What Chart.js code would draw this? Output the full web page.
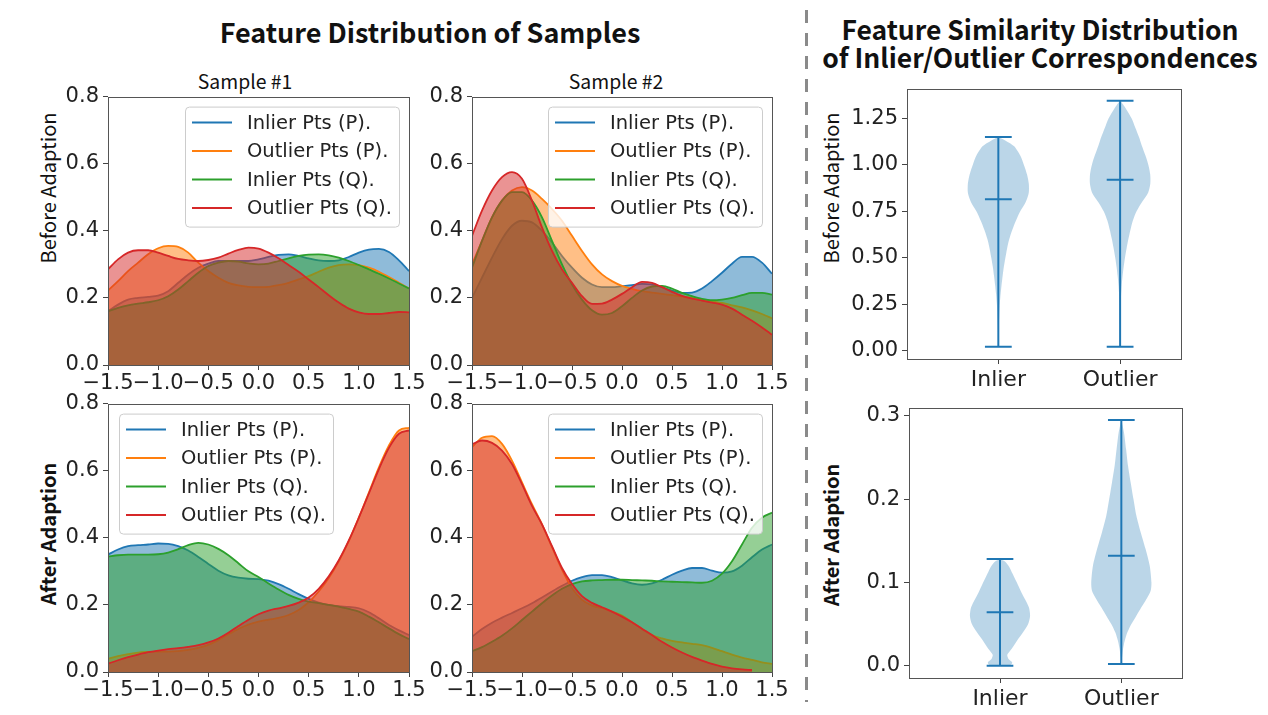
<!DOCTYPE html>
<html>
<head>
<meta charset="utf-8">
<script src="https://cdn.jsdelivr.net/npm/chart.js@4.4.1/dist/chart.umd.min.js"></script>
<style>
body { margin: 0; width: 1268px; height: 715px; background: #fff; position: relative; overflow: hidden; font-family: "Noto Sans CJK JP", sans-serif; color: #111; }
canvas { position: absolute; }
.t { position: absolute; white-space: nowrap; text-align: center; }
.rot { position: absolute; white-space: nowrap; font-size: 20px; transform: translate(-50%, -50%) rotate(-90deg); }
.dash { position: absolute; left: 805px; top: 10px; width: 3px; height: 692px; background: repeating-linear-gradient(to bottom, #8a8a8a 0 13px, transparent 13px 23px); }
</style>
</head>
<body>
<div class="t" style="left:130px;width:600px;top:12px;font-size:27px;font-weight:bold;">Feature Distribution of Samples</div>
<div class="t" style="left:820px;width:440px;top:15px;font-size:26.5px;font-weight:bold;line-height:28px;">Feature Similarity Distribution<br>of Inlier/Outlier Correspondences</div>
<div class="t" style="left:195px;width:100px;top:66px;font-size:19.4px;">Sample #1</div>
<div class="t" style="left:566px;width:100px;top:66px;font-size:19.4px;">Sample #2</div>
<div class="rot" style="left:47px;top:188px;">Before Adaption</div>
<div class="rot" style="left:47px;top:534px;font-weight:bold;">After Adaption</div>
<div class="rot" style="left:830px;top:188px;">Before Adaption</div>
<div class="rot" style="left:830px;top:535px;font-weight:bold;">After Adaption</div>
<div class="dash"></div>

<canvas id="c1" width="400" height="320" style="left:30px;top:80px"></canvas>
<canvas id="c2" width="370" height="320" style="left:425px;top:80px"></canvas>
<canvas id="c3" width="400" height="323" style="left:30px;top:387px"></canvas>
<canvas id="c4" width="370" height="323" style="left:425px;top:387px"></canvas>
<canvas id="c5" width="360" height="320" style="left:850px;top:72px"></canvas>
<canvas id="c6" width="360" height="322" style="left:850px;top:391px"></canvas>

<script>
// --- Données ---
const xGrid = [-1.5,-1.4,-1.3,-1.2,-1.1,-1.0,-0.9,-0.8,-0.7,-0.6,-0.5,-0.4,-0.3,-0.2,-0.1,0.0,0.1,0.2,0.3,0.4,0.5,0.6,0.7,0.8,0.9,1.0,1.1,1.2,1.3,1.4,1.5];
const kdeXTicks = [-1.5, -1.0, -0.5, 0.0, 0.5, 1.0, 1.5];
const kdeYTicks = [0.0, 0.2, 0.4, 0.6, 0.8];
const seriesNames = ["Inlier Pts (P).", "Outlier Pts (P).", "Inlier Pts (Q).", "Outlier Pts (Q)."];
const seriesColors = ["#1f77b4", "#ff7f0e", "#2ca02c", "#d62728"];

// Sample #1, avant adaptation
const s1BeforeInlierP = [0.16,0.18,0.195,0.2,0.203,0.207,0.22,0.245,0.27,0.29,0.302,0.31,0.31,0.31,0.31,0.315,0.322,0.328,0.33,0.325,0.318,0.312,0.31,0.312,0.322,0.335,0.344,0.346,0.337,0.312,0.28];
const s1BeforeOutlierP = [0.222,0.25,0.28,0.305,0.33,0.348,0.355,0.352,0.335,0.305,0.28,0.26,0.245,0.237,0.233,0.232,0.233,0.238,0.245,0.255,0.265,0.278,0.29,0.298,0.3,0.298,0.29,0.278,0.262,0.245,0.228];
const s1BeforeInlierQ = [0.16,0.17,0.178,0.183,0.187,0.193,0.205,0.225,0.25,0.275,0.295,0.305,0.31,0.308,0.303,0.3,0.302,0.31,0.318,0.325,0.329,0.33,0.327,0.32,0.31,0.298,0.285,0.272,0.258,0.243,0.228];
const s1BeforeOutlierQ = [0.285,0.315,0.335,0.342,0.342,0.335,0.325,0.316,0.312,0.31,0.313,0.32,0.332,0.343,0.35,0.347,0.335,0.318,0.298,0.278,0.255,0.232,0.208,0.186,0.168,0.157,0.152,0.152,0.155,0.158,0.157];

// Sample #2, avant adaptation
const s2BeforeInlierP = [0.2,0.26,0.32,0.375,0.415,0.43,0.425,0.4,0.365,0.325,0.29,0.26,0.24,0.232,0.232,0.235,0.238,0.242,0.24,0.232,0.222,0.215,0.216,0.228,0.25,0.275,0.302,0.322,0.322,0.305,0.272];
const s2BeforeOutlierP = [0.3,0.37,0.44,0.49,0.52,0.53,0.52,0.495,0.465,0.43,0.385,0.34,0.3,0.27,0.25,0.236,0.227,0.22,0.216,0.212,0.208,0.204,0.2,0.195,0.19,0.185,0.178,0.172,0.163,0.152,0.139];
const s2BeforeInlierQ = [0.29,0.37,0.44,0.49,0.515,0.515,0.49,0.44,0.37,0.3,0.24,0.195,0.163,0.15,0.155,0.175,0.2,0.222,0.234,0.236,0.228,0.215,0.205,0.197,0.193,0.195,0.2,0.208,0.215,0.215,0.21];
const s2BeforeOutlierQ = [0.385,0.46,0.52,0.56,0.575,0.555,0.49,0.41,0.34,0.285,0.245,0.205,0.182,0.183,0.195,0.212,0.232,0.248,0.245,0.232,0.218,0.206,0.198,0.192,0.186,0.18,0.168,0.15,0.132,0.112,0.09];

// Sample #1, après adaptation
const s1AfterInlierP = [0.35,0.365,0.375,0.378,0.38,0.383,0.382,0.375,0.362,0.343,0.322,0.302,0.288,0.281,0.278,0.277,0.272,0.262,0.248,0.232,0.218,0.207,0.2,0.196,0.194,0.19,0.178,0.16,0.14,0.124,0.11];
const s1AfterOutlierP = [0.04,0.047,0.053,0.058,0.06,0.061,0.061,0.062,0.066,0.072,0.081,0.095,0.112,0.128,0.141,0.15,0.156,0.161,0.17,0.185,0.208,0.24,0.28,0.33,0.39,0.46,0.535,0.61,0.675,0.72,0.728];
const s1AfterInlierQ = [0.344,0.348,0.35,0.35,0.35,0.351,0.356,0.366,0.378,0.385,0.38,0.367,0.348,0.324,0.3,0.283,0.264,0.246,0.23,0.218,0.21,0.205,0.2,0.195,0.188,0.18,0.165,0.148,0.13,0.113,0.098];
const s1AfterOutlierQ = [0.025,0.035,0.044,0.052,0.059,0.064,0.068,0.071,0.075,0.08,0.088,0.1,0.117,0.137,0.156,0.172,0.183,0.19,0.197,0.207,0.222,0.248,0.285,0.333,0.392,0.46,0.532,0.605,0.668,0.71,0.72];

// Sample #2, après adaptation
const s2AfterInlierP = [0.105,0.128,0.147,0.162,0.176,0.19,0.205,0.222,0.24,0.257,0.272,0.283,0.289,0.289,0.283,0.273,0.264,0.26,0.264,0.275,0.29,0.302,0.31,0.31,0.302,0.296,0.3,0.317,0.342,0.365,0.38];
const s2AfterOutlierP = [0.67,0.698,0.703,0.68,0.63,0.565,0.5,0.44,0.372,0.305,0.25,0.215,0.198,0.19,0.18,0.168,0.148,0.128,0.11,0.1,0.093,0.088,0.084,0.08,0.072,0.062,0.052,0.043,0.036,0.029,0.024];
const s2AfterInlierQ = [0.062,0.074,0.09,0.108,0.13,0.155,0.18,0.205,0.228,0.248,0.262,0.27,0.273,0.274,0.275,0.275,0.274,0.273,0.272,0.27,0.269,0.268,0.267,0.266,0.272,0.293,0.33,0.38,0.43,0.46,0.475];
const s2AfterOutlierQ = [0.679,0.69,0.683,0.66,0.62,0.56,0.495,0.44,0.375,0.31,0.262,0.226,0.206,0.193,0.18,0.165,0.148,0.129,0.11,0.09,0.073,0.058,0.045,0.034,0.024,0.016,0.011,0.008,0.006,null,null];

// Violons
const violinCats = ["Inlier", "Outlier"];
const violinPos = [1, 2];
const vBeforeYTicks = [0.00, 0.25, 0.50, 0.75, 1.00, 1.25];
const vAfterYTicks = [0.0, 0.1, 0.2, 0.3];
const vBeforeMin = [0.02, 0.02];
const vBeforeMax = [1.15, 1.345];
const vBeforeMed = [0.815, 0.92];
const vAfterMin = [0.0, 0.002];
const vAfterMax = [0.128, 0.295];
const vAfterMed = [0.064, 0.132];

const vBeforeInlierLv = [0.02,0.05,0.1,0.15,0.2,0.25,0.3,0.35,0.4,0.45,0.5,0.55,0.6,0.65,0.7,0.75,0.8,0.85,0.9,0.95,1.0,1.05,1.1,1.13,1.15];
const vBeforeInlierW = [0,0.002,0.003,0.005,0.008,0.012,0.018,0.026,0.035,0.045,0.058,0.072,0.09,0.115,0.145,0.18,0.225,0.25,0.25,0.235,0.21,0.18,0.13,0.06,0];
const vBeforeOutlierLv = [0.02,0.1,0.2,0.25,0.3,0.35,0.4,0.45,0.5,0.55,0.6,0.65,0.7,0.75,0.8,0.85,0.9,0.95,1.0,1.05,1.1,1.15,1.2,1.25,1.3,1.32,1.345];
const vBeforeOutlierW = [0,0.001,0.003,0.005,0.008,0.013,0.02,0.029,0.04,0.053,0.068,0.085,0.105,0.135,0.18,0.23,0.248,0.247,0.232,0.208,0.18,0.155,0.125,0.095,0.05,0.03,0];
const vAfterInlierLv = [0,0.001,0.004,0.008,0.013,0.02,0.03,0.04,0.05,0.06,0.07,0.08,0.09,0.1,0.11,0.12,0.125,0.128];
const vAfterInlierW = [0,0.09,0.1,0.07,0.06,0.095,0.14,0.19,0.232,0.248,0.238,0.205,0.17,0.138,0.105,0.07,0.04,0];
const vAfterOutlierLv = [0.002,0.01,0.02,0.03,0.04,0.05,0.06,0.07,0.08,0.09,0.1,0.12,0.14,0.16,0.18,0.2,0.22,0.24,0.26,0.28,0.295];
const vAfterOutlierW = [0,0.006,0.014,0.028,0.05,0.083,0.124,0.165,0.207,0.242,0.248,0.234,0.2,0.16,0.124,0.1,0.077,0.055,0.039,0.022,0];

// --- Réglages communs ---
Chart.defaults.font.family = "'DejaVu Sans', sans-serif";
Chart.defaults.font.size = 21;
Chart.defaults.color = "#222";
Chart.defaults.animation = false;

function fmt(v, d) {
    return (v < 0 ? "\u2212" : "") + Math.abs(v).toFixed(d);
}

function rgba(hex, a) {
    const n = parseInt(hex.slice(1), 16);
    return `rgba(${n >> 16},${(n >> 8) & 255},${n & 255},${a})`;
}

// cadre autour de la zone de tracé
Chart.register({
    id: "frame",
    afterDatasetsDraw(chart) {
        const { ctx, chartArea: a } = chart;
        ctx.save();
        ctx.strokeStyle = "#555";
        ctx.lineWidth = 1;
        ctx.strokeRect(Math.round(a.left) + 0.5, Math.round(a.top) + 0.5, Math.round(a.right - a.left), Math.round(a.bottom - a.top));
        ctx.restore();
    }
});

// légende façon matplotlib, dans la zone de tracé
Chart.register({
    id: "boxLegend",
    afterDraw(chart, args, opts) {
        if (!opts.side) return;
        const { ctx, chartArea: a } = chart;
        const w = 214, h = 120;
        const x = opts.side === "left" ? a.left + 11 : a.right - 10 - w;
        const y = a.top + 10;
        ctx.save();
        ctx.fillStyle = "rgba(255,255,255,0.8)";
        ctx.strokeStyle = "#cccccc";
        ctx.lineWidth = 1;
        ctx.beginPath();
        ctx.roundRect(x + 0.5, y + 0.5, w, h, 4);
        ctx.fill();
        ctx.stroke();
        ctx.font = "19.5px 'DejaVu Sans'";
        ctx.textBaseline = "middle";
        seriesNames.forEach((name, i) => {
            const ry = y + 16 + i * 28.5;
            ctx.strokeStyle = seriesColors[i];
            ctx.lineWidth = 2;
            ctx.beginPath();
            ctx.moveTo(x + 7, ry);
            ctx.lineTo(x + 47, ry);
            ctx.stroke();
            ctx.fillStyle = "#222";
            ctx.fillText(name, x + 62, ry + 1);
        });
        ctx.restore();
    }
});

function fitArea(canvas, a) {
    const cx = parseFloat(canvas.style.left), cy = parseFloat(canvas.style.top);
    return {
        padding: { left: 0, top: a.t - cy, right: cx + canvas.width - a.r, bottom: 0 },
        yW: a.l - cx,
        xH: cy + canvas.height - a.b
    };
}

function axisStyle() {
    return {
        grid: { drawOnChartArea: false, drawTicks: true, tickLength: 5, tickColor: "#444" },
        border: { display: false }
    };
}

function kdeChart(id, area, arrays, side) {
    const canvas = document.getElementById(id);
    const g = fitArea(canvas, area);
    const datasets = arrays.map((arr, i) => ({
        label: seriesNames[i],
        data: xGrid.map((x, j) => ({ x: x, y: arr[j] })),
        borderColor: seriesColors[i],
        backgroundColor: rgba(seriesColors[i], 0.5),
        borderWidth: 1.8,
        pointRadius: 0,
        fill: "origin",
        cubicInterpolationMode: "monotone",
        order: 4 - i
    }));
    return new Chart(canvas, {
        type: "line",
        data: { datasets },
        options: {
            responsive: false,
            layout: { padding: g.padding },
            plugins: { legend: { display: false }, tooltip: { enabled: false }, boxLegend: { side } },
            scales: {
                x: {
                    type: "linear", min: -1.5, max: 1.5, ...axisStyle(),
                    afterBuildTicks: ax => { ax.ticks = kdeXTicks.map(v => ({ value: v })); },
                    afterFit: ax => { ax.height = g.xH; },
                    ticks: { autoSkip: false, maxRotation: 0, minRotation: 0, padding: 1, callback: v => fmt(v, 1) }
                },
                y: {
                    min: 0, max: 0.8, ...axisStyle(),
                    afterBuildTicks: ax => { ax.ticks = kdeYTicks.map(v => ({ value: v })); },
                    afterFit: ax => { ax.width = g.yW; },
                    ticks: { padding: 4, callback: v => fmt(v, 1) }
                }
            }
        }
    });
}

function violinChart(id, area, profiles, mins, maxs, meds, yMin, yMax, yTicks, dec) {
    const canvas = document.getElementById(id);
    const g = fitArea(canvas, area);
    const blue = "#1f77b4";
    const datasets = [];
    profiles.forEach(([lv, w], k) => {
        const p = violinPos[k];
        const right = lv.map((v, i) => ({ x: p + w[i], y: v }));
        const left = lv.map((v, i) => ({ x: p - w[i], y: v })).reverse();
        datasets.push({ data: right.concat(left), borderWidth: 0, borderColor: "rgba(0,0,0,0)",
            backgroundColor: rgba(blue, 0.3), fill: "shape", pointRadius: 0, tension: 0.25, order: 10 });
    });
    const seg = (x1, y1, x2, y2) => ({ data: [{ x: x1, y: y1 }, { x: x2, y: y2 }], borderColor: blue,
        borderWidth: 2, pointRadius: 0, fill: false, order: 1 });
    violinPos.forEach((p, k) => {
        datasets.push(seg(p, mins[k], p, maxs[k]));
        [mins[k], maxs[k], meds[k]].forEach(v => datasets.push(seg(p - 0.11, v, p + 0.11, v)));
    });
    return new Chart(canvas, {
        type: "line",
        data: { datasets },
        options: {
            responsive: false,
            layout: { padding: g.padding },
            plugins: { legend: { display: false }, tooltip: { enabled: false }, boxLegend: { side: null } },
            scales: {
                x: {
                    type: "linear", min: 0.25, max: 2.5, ...axisStyle(),
                    afterBuildTicks: ax => { ax.ticks = violinPos.map(v => ({ value: v })); },
                    afterFit: ax => { ax.height = g.xH; },
                    ticks: { autoSkip: false, maxRotation: 0, padding: 3, font: { size: 22 }, callback: v => violinCats[violinPos.indexOf(v)] }
                },
                y: {
                    min: yMin, max: yMax, ...axisStyle(),
                    afterBuildTicks: ax => { ax.ticks = yTicks.map(v => ({ value: v })); },
                    afterFit: ax => { ax.width = g.yW; },
                    ticks: { padding: 4, callback: v => fmt(v, dec) }
                }
            }
        }
    });
}

kdeChart("c1", { l: 108, t: 96, r: 409, b: 365 }, [s1BeforeInlierP, s1BeforeOutlierP, s1BeforeInlierQ, s1BeforeOutlierQ], "right");
kdeChart("c2", { l: 472, t: 96, r: 772, b: 365 }, [s2BeforeInlierP, s2BeforeOutlierP, s2BeforeInlierQ, s2BeforeOutlierQ], "right");
kdeChart("c3", { l: 108, t: 403, r: 409, b: 672 }, [s1AfterInlierP, s1AfterOutlierP, s1AfterInlierQ, s1AfterOutlierQ], "left");
kdeChart("c4", { l: 472, t: 403, r: 772, b: 672 }, [s2AfterInlierP, s2AfterOutlierP, s2AfterInlierQ, s2AfterOutlierQ], "right");

violinChart("c5", { l: 907, t: 88, r: 1181, b: 359 },
    [[vBeforeInlierLv, vBeforeInlierW], [vBeforeOutlierLv, vBeforeOutlierW]],
    vBeforeMin, vBeforeMax, vBeforeMed, -0.046, 1.411, vBeforeYTicks, 2);
violinChart("c6", { l: 909, t: 407, r: 1182, b: 678 },
    [[vAfterInlierLv, vAfterInlierW], [vAfterOutlierLv, vAfterOutlierW]],
    vAfterMin, vAfterMax, vAfterMed, -0.0148, 0.3098, vAfterYTicks, 1);
</script>
</body>
</html>
